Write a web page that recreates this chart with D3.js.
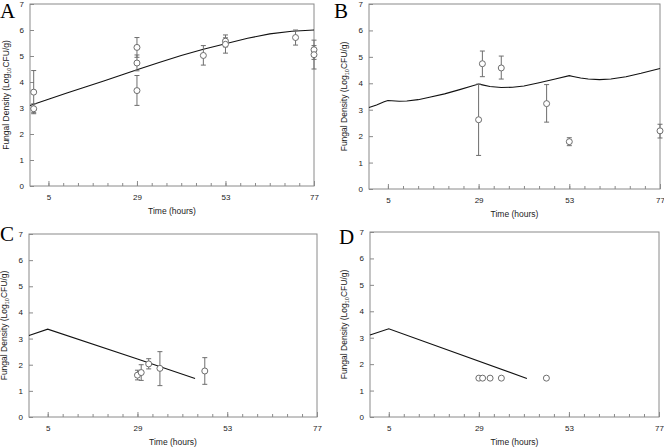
<!DOCTYPE html>
<html><head><meta charset="utf-8">
<script src="https://cdn.jsdelivr.net/npm/d3@7"></script>
<style>body{margin:0;background:#fff}svg{display:block}</style>
</head><body>
<svg id="c" width="664" height="448"></svg>
<script>
// ---- data ----
const xMajorTicks = [5, 29, 53, 77];
const xMinorTicks = d3.range(5, 78, 4);
const yTicks = [0, 1, 2, 3, 4, 5, 6, 7];
const panelLetters = ["A", "B", "C", "D"];

// observations: [time, mean, low, high]
const obsA = [[1,3.61,2.78,4.44],[1,2.97,2.82,3.16],[29,5.33,4.95,5.71],[29,4.73,4.43,5.04],[29,3.67,3.1,4.25],
  [47,5.02,4.65,5.4],[53,5.57,5.35,5.81],[53,5.45,5.11,5.7],[72,5.71,5.42,6.0],[77,5.24,4.87,5.61],[77,5.05,4.5,5.4]];
const obsB = [[29,2.62,1.27,3.97],[30,4.74,4.25,5.22],[35,4.58,4.16,5.03],[47,3.23,2.53,3.95],[53,1.79,1.64,1.94],[77,2.2,1.93,2.45]];
const obsC = [[29,1.6,1.42,1.79],[30,1.7,1.4,2.0],[32,2.03,1.84,2.23],[35,1.86,1.2,2.5],[47,1.76,1.25,2.27]];
const obsD = [[29,1.47,null,null],[30,1.47,null,null],[32,1.47,null,null],[35,1.47,null,null],[47,1.47,null,null]];

// model curves: [time, value]
const fitA = [[0,3.1],[5,3.34],[10,3.58],[15,3.81],[20,4.04],[25,4.28],[29,4.47],[35,4.75],[41,5.02],[47,5.26],[53,5.47],[59,5.68],[65,5.85],[71,5.95],[77,6.0]];
const fitB = [[0,3.08],[2,3.18],[4,3.3],[5,3.35],[6,3.34],[8,3.32],[10,3.33],[13,3.38],[16,3.47],[20,3.6],[24,3.76],[27,3.89],[29,3.97],
  [30,3.94],[32,3.88],[35,3.84],[38,3.85],[41,3.9],[45,4.02],[49,4.15],[53,4.29],[54,4.26],[56,4.2],[58,4.16],[61,4.14],[64,4.16],[68,4.25],[72,4.38],[77,4.56]];
const fitC = [[0,3.12],[5,3.36],[29,2.22],[44.4,1.47]];
const fitD = [[0,3.1],[5,3.34],[41.8,1.46]];

// ---- layout ----
const panels = [
  {letter: panelLetters[0], obs: obsA, fit: fitA, l: 30, r: 314, t: 4, b: 186, lx: 0, ly: 18, yl: 6},
  {letter: panelLetters[1], obs: obsB, fit: fitB, l: 369, r: 660, t: 4, b: 189, lx: 334, ly: 18, yl: 344},
  {letter: panelLetters[2], obs: obsC, fit: fitC, l: 29, r: 317, t: 234, b: 417, lx: 0, ly: 241, yl: 4},
  {letter: panelLetters[3], obs: obsD, fit: fitD, l: 370, r: 659, t: 232, b: 417, lx: 339, ly: 244, yl: 344}
];

const svg = d3.select("#c");
const frameCol = "#8a8a8a", markCol = "#6e6e6e", textCol = "#222";
const fontSans = "Liberation Sans, Arial, sans-serif";

panels.forEach(p => {
  const x = d3.scaleLinear().domain([0, 77]).range([p.l, p.r]);
  const y = d3.scaleLinear().domain([0, 7]).range([p.b, p.t]);
  const g = svg.append("g");

  // frame
  g.append("rect").attr("x", p.l).attr("y", p.t).attr("width", p.r - p.l).attr("height", p.b - p.t)
    .attr("fill", "none").attr("stroke", frameCol).attr("stroke-width", 1);

  // x axis (ticks inward)
  const xMinor = g.append("g").attr("transform", `translate(0,${p.b})`)
    .call(d3.axisBottom(x).tickValues(xMinorTicks).tickSize(-3).tickFormat(""));
  const xMajor = g.append("g").attr("transform", `translate(0,${p.b})`)
    .call(d3.axisBottom(x).tickValues(xMajorTicks).tickSize(-5).tickPadding(8).tickFormat(d3.format("d")));
  // y axis (ticks inward)
  const yAx = g.append("g").attr("transform", `translate(${p.l},0)`)
    .call(d3.axisLeft(y).tickValues(yTicks).tickSize(-4).tickPadding(6).tickFormat(d3.format("d")));
  [xMinor, xMajor, yAx].forEach(a => {
    a.select(".domain").remove();
    a.selectAll("line").attr("stroke", frameCol);
    a.selectAll("text").attr("fill", textCol).style("font-family", fontSans).style("font-size", "8px");
  });

  // x title
  g.append("text").attr("x", (p.l + p.r) / 2).attr("y", p.b + 28).attr("text-anchor", "middle")
    .style("font-family", fontSans).style("font-size", "8.5px").attr("fill", textCol).text("Time (hours)");

  // y title
  const yt = g.append("text").attr("transform", `translate(${p.yl + 3},${(p.t + p.b) / 2}) rotate(-90)`)
    .attr("text-anchor", "middle").style("font-family", fontSans).style("font-size", "8.5px").attr("fill", textCol);
  yt.append("tspan").text("Fungal Density (Log");
  yt.append("tspan").attr("dy", 2).style("font-size", "5.5px").text("10");
  yt.append("tspan").attr("dy", -2).text("CFU/g)");

  // panel letter
  g.append("text").attr("x", p.lx).attr("y", p.ly).style("font-family", "Liberation Serif, Times New Roman, serif")
    .style("font-size", "21px").attr("fill", "#000").text(p.letter);

  // model curve
  g.append("path").datum(p.fit)
    .attr("d", d3.line().x(d => x(d[0])).y(d => y(d[1])))
    .attr("fill", "none").attr("stroke", "#111").attr("stroke-width", 1.1);

  // error bars
  const eb = p.obs.filter(d => d[2] != null);
  g.selectAll(".eb").data(eb).enter().append("path")
    .attr("d", d => `M${x(d[0])},${y(d[2])}V${y(d[3])}M${x(d[0]) - 2.5},${y(d[2])}h5M${x(d[0]) - 2.5},${y(d[3])}h5`)
    .attr("stroke", markCol).attr("stroke-width", 1).attr("fill", "none");

  // points
  g.selectAll(".pt").data(p.obs).enter().append("circle")
    .attr("cx", d => x(d[0])).attr("cy", d => y(d[1])).attr("r", 3)
    .attr("fill", "#fff").attr("stroke", markCol).attr("stroke-width", 1);
});
</script>
</body></html>
